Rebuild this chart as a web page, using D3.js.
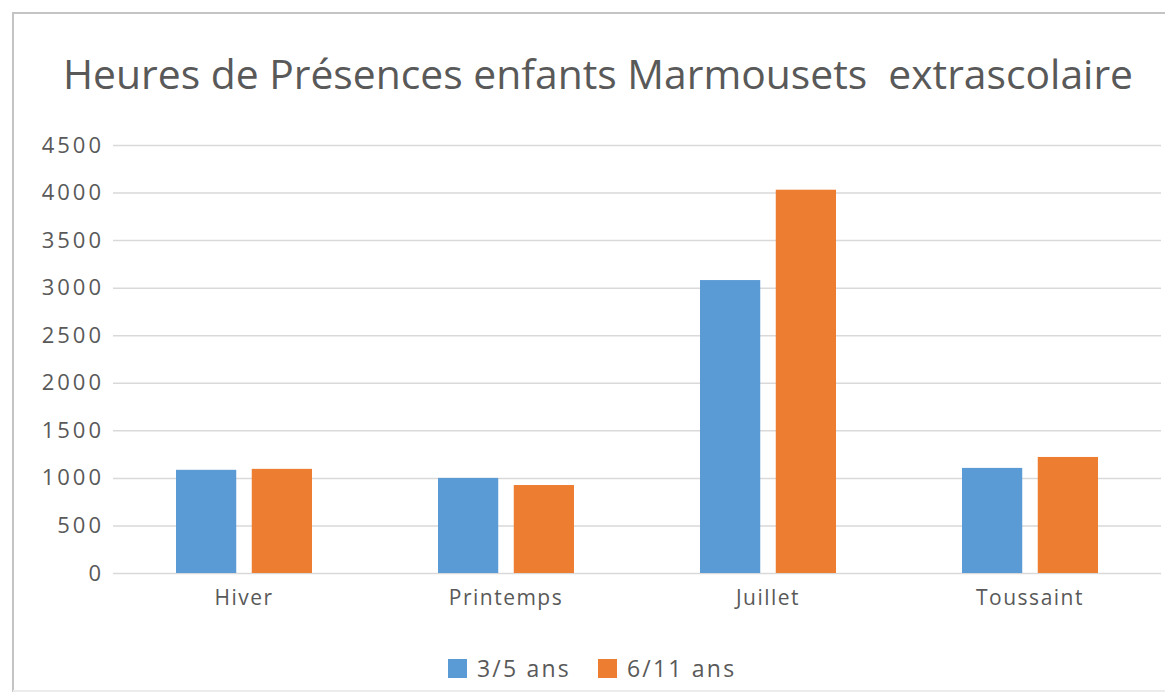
<!DOCTYPE html>
<html>
<head>
<meta charset="utf-8">
<script src="https://cdn.jsdelivr.net/npm/d3@7"></script>
<style>
  body { margin: 0; background: #fff; }
  #chart text { font-family: "Open Sans", "DejaVu Sans", sans-serif; fill: #595959; }
</style>
</head>
<body>
<div id="chart"></div>
<script>
const categories = ["Hiver", "Printemps", "Juillet", "Toussaint"];
const seriesNames = ["3/5 ans", "6/11 ans"];
const petits = [1085, 1000, 3080, 1105];
const grands = [1095, 925, 4030, 1220];
const yTicks = [0, 500, 1000, 1500, 2000, 2500, 3000, 3500, 4000, 4500];
const colors = ["#5b9bd5", "#ed7d31"];

const W = 1165, H = 692;
const margin = { top: 145, right: 4, bottom: 119, left: 113 };
const width = W - margin.left - margin.right;
const height = H - margin.top - margin.bottom;

const data = categories.map((c, i) => ({ cat: c, values: [petits[i], grands[i]] }));

const svg = d3.select("#chart").append("svg")
  .attr("width", W).attr("height", H);

// frame of the chart area (right and bottom cut off in the original)
svg.append("path")
  .attr("d", `M13,${H} V13 H${W}`)
  .attr("fill", "none")
  .attr("stroke", "#c4c4c4")
  .attr("stroke-width", 2);
svg.append("line")
  .attr("x1", 13).attr("x2", W).attr("y1", H - 1).attr("y2", H - 1)
  .attr("stroke", "#ececec").attr("stroke-width", 2);

svg.append("text")
  .attr("x", 63).attr("y", 89)
  .attr("textLength", 1070)
  .attr("lengthAdjust", "spacingAndGlyphs")
  .style("font-size", "40px")
  .style("white-space", "pre")
  .text("Heures de Présences enfants Marmousets  extrascolaire");

const g = svg.append("g").attr("transform", `translate(${margin.left},${margin.top})`);

const y = d3.scaleLinear().domain([0, 4500]).range([height, 0]);
const x0 = d3.scaleBand().domain(categories).range([0, width]).padding(0);
const x1 = d3.scaleBand().domain(d3.range(seriesNames.length))
  .range([63, 199]).paddingInner(0.205).paddingOuter(0);

const yAxis = g.append("g")
  .call(d3.axisLeft(y).tickValues(yTicks).tickFormat(d3.format("d"))
    .tickSize(-width).tickPadding(12));
yAxis.select(".domain").remove();
yAxis.selectAll(".tick line").attr("stroke", "#d9d9d9").attr("stroke-width", 1.5);
yAxis.selectAll(".tick text")
  .style("font-size", "22px")
  .style("letter-spacing", "3px")
  .attr("dx", "3px")
  .attr("fill", "#595959");

const groups = g.selectAll(".grp").data(data).enter().append("g")
  .attr("transform", d => `translate(${x0(d.cat)},0)`);
groups.selectAll("rect").data(d => d.values).enter().append("rect")
  .attr("x", (d, i) => x1(i))
  .attr("width", x1.bandwidth())
  .attr("y", d => y(d))
  .attr("height", d => height - y(d))
  .attr("fill", (d, i) => colors[i]);

g.selectAll(".cat").data(categories).enter().append("text")
  .attr("x", d => x0(d) + x0.bandwidth() / 2)
  .attr("y", height + 32)
  .attr("text-anchor", "middle")
  .style("font-size", "21px")
  .style("letter-spacing", "1.5px")
  .text(d => d);

// legend
const legendX = [448, 598];
const legend = svg.append("g");
seriesNames.forEach((s, i) => {
  legend.append("rect")
    .attr("x", legendX[i]).attr("y", 659)
    .attr("width", 19).attr("height", 19)
    .attr("fill", colors[i]);
  legend.append("text")
    .attr("x", legendX[i] + 29).attr("y", 677)
    .style("font-size", "23px")
    .style("letter-spacing", "2.2px")
    .text(s);
});
</script>
</body>
</html>
